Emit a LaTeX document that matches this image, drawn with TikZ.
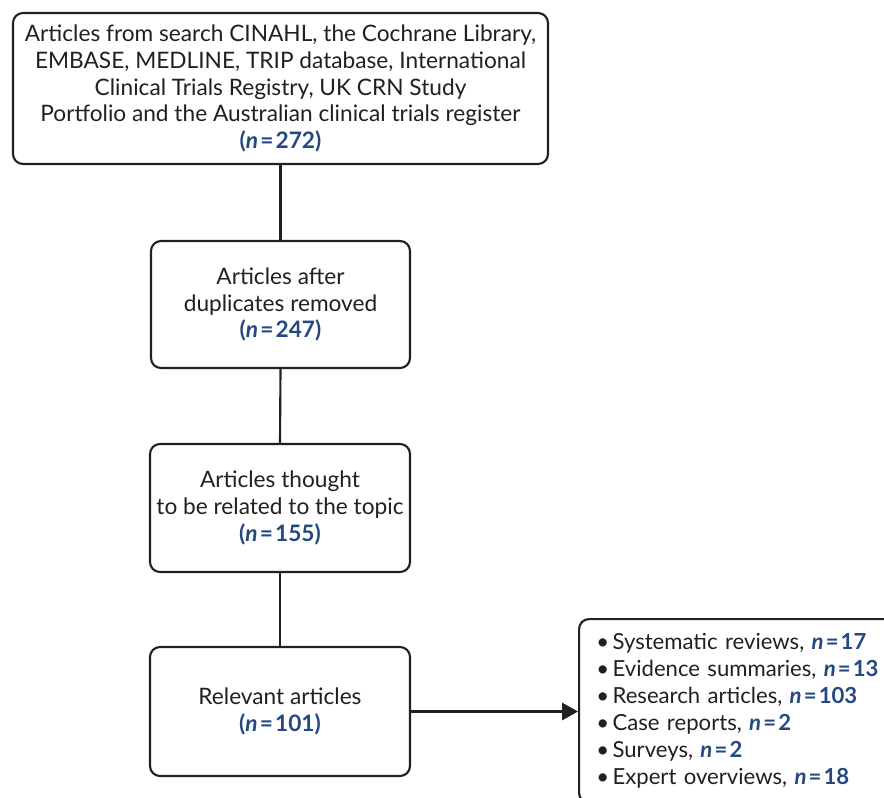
\documentclass[tikz,border=0pt]{standalone}
\usepackage{fontspec}
\setmainfont{Lato}
\usetikzlibrary{arrows.meta}
\definecolor{ink}{RGB}{35,31,32}
\definecolor{nblue}{RGB}{36,72,128}
\newcommand{\nval}[1]{\textcolor{nblue}{\textbf{\textit{n}\hspace{1.6pt}=\hspace{1.6pt}#1}}}
\newcommand{\pnval}[1]{\textcolor{nblue}{\textbf{(\textit{n}\hspace{1.6pt}=\hspace{1.6pt}#1)}}}
\newcommand{\bul}{\textbullet\hspace{2.5pt}}
\tikzset{
  flowbox/.style={draw=ink, line width=1.6pt, rounded corners=7.5pt, inner sep=0pt,
    align=center, text=ink, font=\fontsize{17}{20}\selectfont},
  link/.style={draw=ink, line width=1.6pt},
}
\begin{document}
\begin{tikzpicture}[x=0.75pt,y=-0.75pt]
\useasboundingbox (0,0) rectangle (884,798);
\clip (0,0) rectangle (884,798);
\node[flowbox, minimum width=401.25pt, minimum height=113.25pt] (b1) at (280.5,88.5)
  {Articles from search CINAHL, the Cochrane Library,\\
   EMBASE, MEDLINE, TRIP database, International\\
   Clinical Trials Registry, UK CRN Study\\
   Portfolio and the Australian clinical trials register\\
   \pnval{272}};
\node[flowbox, minimum width=194.25pt, minimum height=95.25pt] (b2) at (280.5,304.5)
  {Articles after\\ duplicates removed\\ \pnval{247}};
\node[flowbox, minimum width=195pt, minimum height=96pt] (b3) at (280,508)
  {Articles thought\\ to be related to the topic\\ \pnval{155}};
\node[flowbox, minimum width=195pt, minimum height=96.75pt] (b4) at (280,711.5)
  {Relevant articles\\ \pnval{101}};
\node[flowbox, anchor=north west, align=left, inner xsep=13pt, text width=230pt,
  minimum height=138pt, font=\fontsize{16.6}{20.25}\selectfont] (list) at (578,618)
  {\bul Systematic reviews, \nval{17}\\
   \bul Evidence summaries, \nval{13}\\
   \bul Research articles, \nval{103}\\
   \bul Case reports, \nval{2}\\
   \bul Surveys, \nval{2}\\
   \bul Expert overviews, \nval{18}};
\draw[link] (b1.south) -- (b2.north);
\draw[link] (b2.south) -- (b3.north);
\draw[link] (b3.south) -- (b4.north);
\draw[link, -{Triangle[length=12pt,width=13pt]}] (b4.east) -- (b4.east -| list.west);
\end{tikzpicture}
\end{document}
